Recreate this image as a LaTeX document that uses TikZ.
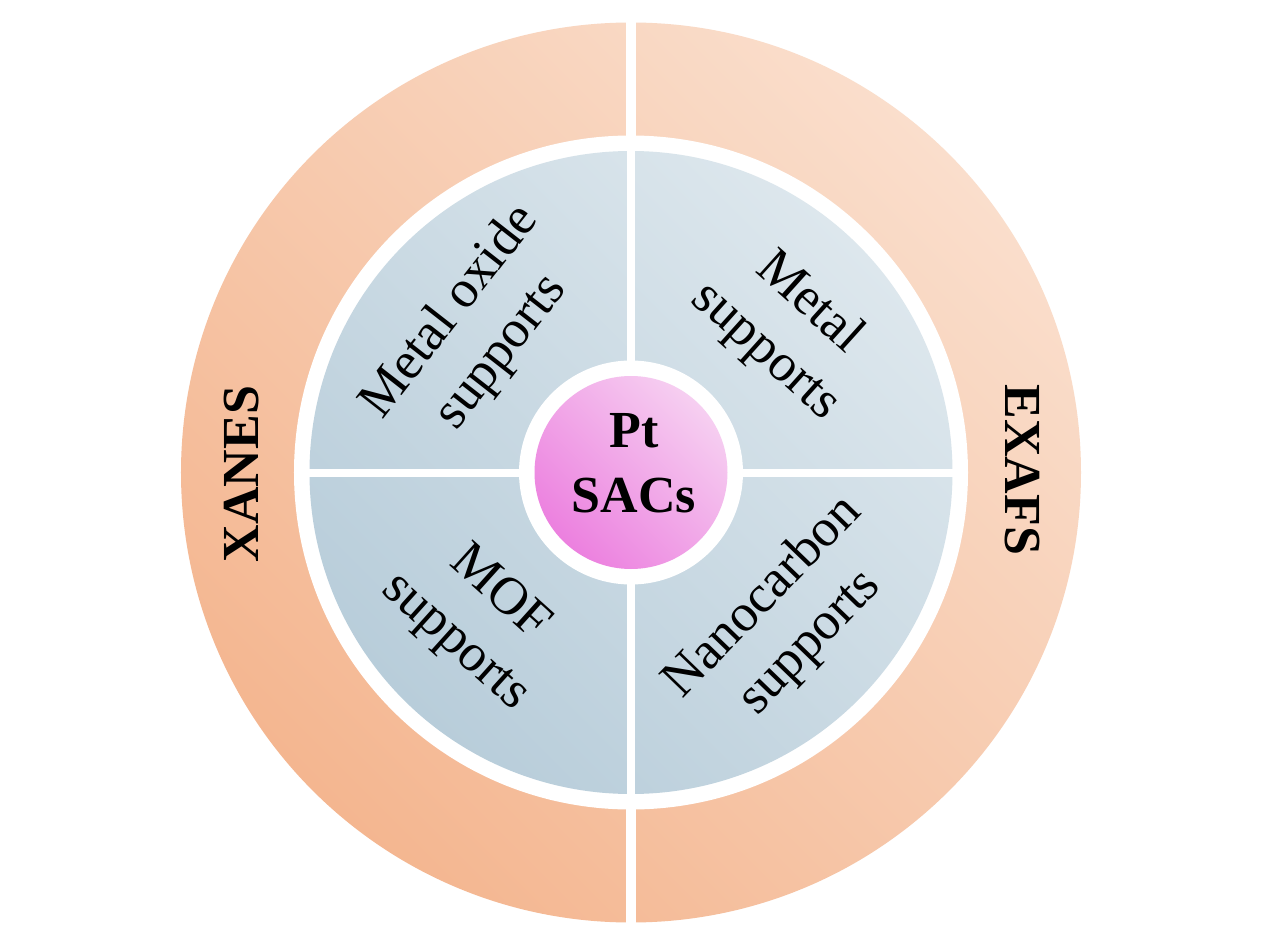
\documentclass[tikz,border=0pt]{standalone}
\usepackage{fontspec}
\setmainfont{Liberation Serif}
\definecolor{ringL}{HTML}{FADECC}
\definecolor{ringD}{HTML}{F4B690}
\definecolor{blueL}{HTML}{DDE7ED}
\definecolor{blueD}{HTML}{B8CDDA}
\definecolor{pinkL}{HTML}{F6CFF1}
\definecolor{pinkD}{HTML}{EC80DF}
\tikzset{
  disc/.style={circle, inner sep=0pt, outer sep=0pt, draw=none},
  lbl/.style={align=center, inner sep=0pt, font=\fontsize{53}{65}\selectfont},
  blbl/.style={align=center, inner sep=0pt, font=\fontsize{52}{65}\selectfont\bfseries},
}
\begin{document}
\begin{tikzpicture}[x=1pt,y=1pt]
\useasboundingbox (-631,-472.5) rectangle (645,472.5);
\fill[white] (-631,-472.5) rectangle (645,472.5);
% outer ring
\node[disc, minimum size=900pt, top color=ringL, bottom color=ringD, shading angle=-45] (outer) at (0,0) {};
\node[disc, minimum size=674pt, fill=white] (outerhole) at (0,0) {};
\fill[white] (-5,-460) rectangle (5,460);
% inner disk
\node[disc, minimum size=643pt, top color=blueL, bottom color=blueD, shading angle=-45] (inner) at (0,0) {};
\fill[white] (-4,-330) rectangle (4,330);
\fill[white] (-330,-4) rectangle (330,4);
% centre
\node[disc, minimum size=224pt, fill=white] (centrering) at (0,0) {};
\node[disc, minimum size=193pt, top color=pinkL, bottom color=pinkD, shading angle=-45] (centre) at (0,0) {};
\node[blbl] (pt) at (3,9.5) {Pt\\SACs};
% ring labels
\node[blbl, rotate=90] (xanes) at (-389,-1.5) {XANES};
\node[blbl, rotate=-90] (exafs) at (391,2.5) {EXAFS};
% quadrant labels
\node[lbl, rotate=52] (mox) at (-155,140) {Metal oxide\\supports};
\node[lbl, rotate=-42] (met) at (156,145) {Metal\\supports};
\node[lbl, rotate=-42] (mof) at (-154,-146) {MOF\\supports};
\node[lbl, rotate=46] (nano) at (156,-148) {Nanocarbon\\supports};
\end{tikzpicture}
\end{document}
